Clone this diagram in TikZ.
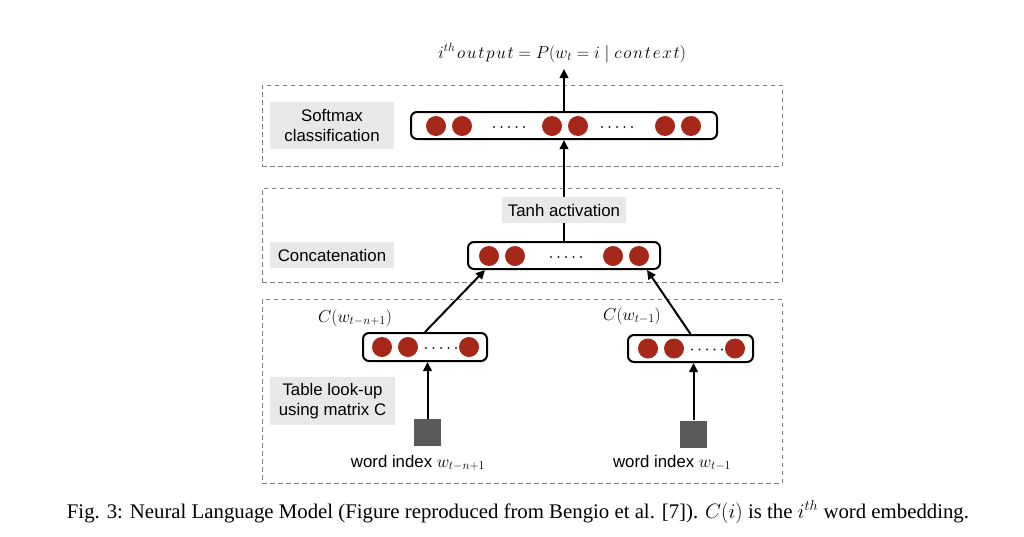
\documentclass[tikz,border=0pt]{standalone}
\usepackage{fontspec}
\setmainfont{Liberation Serif}
\newfontfamily\labelfont{Liberation Sans}
\usetikzlibrary{arrows.meta,calc}
\definecolor{neuronred}{RGB}{166,40,26}
\definecolor{labelgray}{RGB}{232,232,232}
\definecolor{boxgray}{RGB}{128,128,128}
\definecolor{sqgray}{RGB}{90,90,90}
\newcommand\ls{\mkern1.8mu}
\begin{document}
\begin{tikzpicture}[x=1pt,y=-1pt,
 layerbox/.style={draw=boxgray, line width=0.9pt, dash pattern=on 4.5pt off 3.5pt, inner sep=0pt},
 tag/.style={fill=labelgray, inner sep=0pt, font=\labelfont\fontsize{16.8}{20}\selectfont, align=center},
 vec/.style={draw=black, line width=2pt, rounded corners=6pt, inner sep=0pt},
 neuron/.style={circle, fill=neuronred, minimum size=20pt, inner sep=0pt},
 vdot/.style={circle, fill=black!85, minimum size=2.2pt, inner sep=0pt},
 idx/.style={fill=sqgray, minimum size=27pt, inner sep=0pt},
 conn/.style={line width=2pt, -{Triangle[length=9pt,width=8.5pt]}},
 mathlbl/.style={font=\fontsize{18}{21}\selectfont, inner sep=0pt, anchor=base},
 wordlbl/.style={font=\labelfont\fontsize{16.8}{20}\selectfont, inner sep=0pt, anchor=base},
]
\fill[white] (0,0) rectangle (1024,536);
\useasboundingbox (0,0) rectangle (1024,536);

% layer boxes
\node[layerbox, minimum width=520pt, minimum height=81pt] (L1) at (522,125.5) {};
\node[layerbox, minimum width=520pt, minimum height=94pt] (L2) at (522,235) {};
\node[layerbox, minimum width=520pt, minimum height=184pt] (L3) at (522,391) {};

% layer tags
\node[tag, minimum width=124pt, minimum height=47pt] (tsoft) at (332,125.5) {Softmax\\classification};
\node[tag, minimum width=124pt, minimum height=26pt] (tconc) at (332,255) {Concatenation};
\node[tag, minimum width=125pt, minimum height=48pt] (ttab) at (332.5,401) {Table look-up\\using matrix C};

% vectors
\node[vec, minimum width=306pt, minimum height=27pt] (tvec) at (564,125.5) {};
\node[vec, minimum width=192pt, minimum height=27pt] (cvec) at (564,255.5) {};
\node[vec, minimum width=124pt, minimum height=28pt] (lvec) at (425,347) {};
\node[vec, minimum width=125pt, minimum height=27pt] (rvec) at (690.5,348.5) {};

% neurons of top vector
\foreach \x [count=\i] in {436,462,552,578,665,691}
  \node[neuron] (tn\i) at (\x,126) {};
\foreach \k in {0,...,4} {
  \node[vdot] at (494+7.5*\k,127) {};
  \node[vdot] at (602+7.5*\k,127) {};
}
% neurons of concat vector
\foreach \x [count=\i] in {489,515,613,639}
  \node[neuron] (cn\i) at (\x,256) {};
\foreach \k in {0,...,4}
  \node[vdot] at (551+7.5*\k,257) {};
% neurons of left vector
\foreach \x [count=\i] in {382,408,469}
  \node[neuron] (ln\i) at (\x,347) {};
\foreach \k in {0,...,4}
  \node[vdot] at (426+7.5*\k,348) {};
% neurons of right vector
\foreach \x [count=\i] in {648,674,735}
  \node[neuron] (rn\i) at (\x,348.5) {};
\foreach \k in {0,...,4}
  \node[vdot] at (692+7.5*\k,349.5) {};

% word index squares
\node[idx] (lsq) at (427.5,432.5) {};
\node[idx] (rsq) at (693.5,434) {};

% labels
\node[font=\fontsize{18.5}{22}\selectfont, inner sep=0pt, anchor=base] (out) at (562,58) {$i^{th}\ls o\ls u\ls t\ls p\ls u\ls t = P(w_t = i \mid c\ls o\ls n\ls t\ls e\ls x\ls t)$};
\coordinate (outtip) at (564,69);
\node[mathlbl] (cl) at (355,322) {$C(w_{t-n+1})$};
\node[mathlbl] (cr) at (632,320) {$C(w_{t-1})$};
\node[wordlbl] (wl) at (418,467) {word index \fontsize{18}{21}\selectfont$w_{t-n+1}$};
\node[wordlbl] (wr) at (672,467) {word index \fontsize{18}{21}\selectfont$w_{t-1}$};

% connectors
\draw[conn] (tvec.north) -- (outtip);
\draw[conn] (cvec.north) -- (tvec.south);
\node[tag, minimum width=124pt, minimum height=26pt] (tanh) at (564,210) {Tanh activation};
\draw[conn] (lvec.north) -- ($(cvec.south west)+(18,0)$);
\draw[conn] (rvec.north) -- ($(cvec.south east)+(-14,0)$);
\draw[conn] (lsq.north) -- (lsq.north |- lvec.south);
\draw[conn] (rsq.north) -- (rsq.north |- rvec.south);

% caption
\node[inner sep=0pt, anchor=base, font=\fontsize{20.8}{25}\selectfont] (cap) at (518,518) {Fig. 3: Neural Language Model (Figure reproduced from Bengio et al. [7]). $C(i)$ is the $i^{th}$ word embedding.};
\end{tikzpicture}
\end{document}
